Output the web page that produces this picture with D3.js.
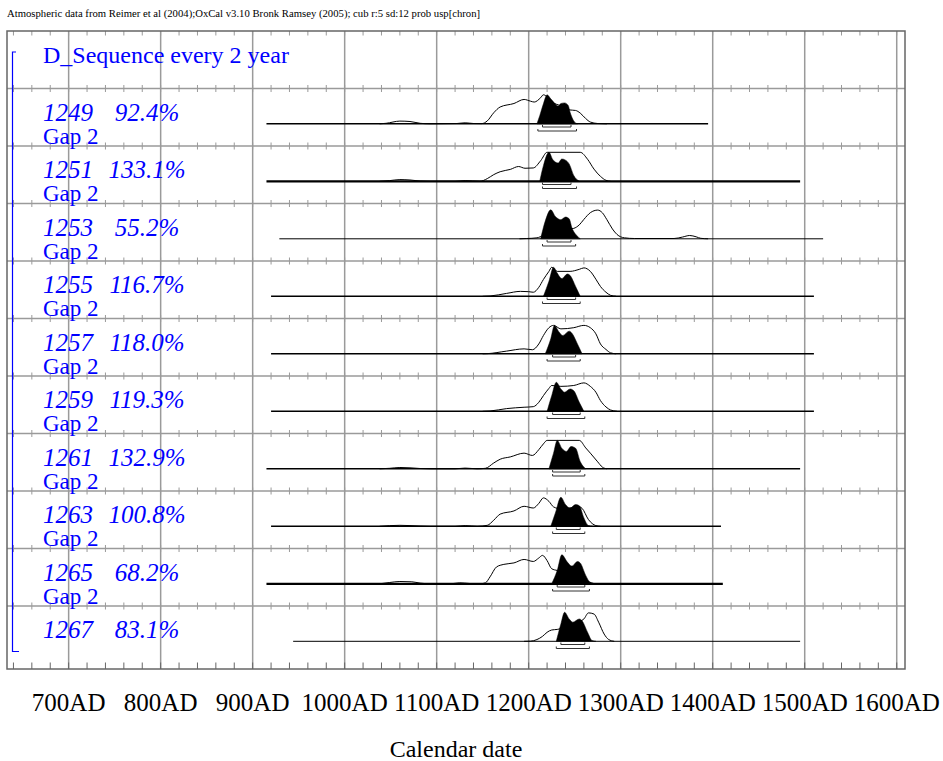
<!DOCTYPE html>
<html>
<head>
<meta charset="UTF-8">
<title>D_Sequence every 2 year</title>
<script src="https://cdnjs.cloudflare.com/ajax/libs/d3/7.8.5/d3.min.js"></script>
<style>
  body { margin: 0; padding: 0; background: #fff; }
  svg { display: block; font-family: "Liberation Serif", "Times New Roman", serif; }
</style>
</head>
<body>
<div id="chart"></div>
<script>
// --- data ---
const headerText = "Atmospheric data from Reimer et al (2004);OxCal v3.10 Bronk Ramsey (2005); cub r:5 sd:12 prob usp[chron]";
const sequenceName = "D_Sequence every 2 year";
const gapText = "Gap 2";
const axisTitle = "Calendar date";
const tickYears = [700, 800, 900, 1000, 1100, 1200, 1300, 1400, 1500, 1600];

const labels = ["1249", "1251", "1253", "1255", "1257", "1259", "1261", "1263", "1265", "1267"];
const agreements = ["92.4%", "133.1%", "55.2%", "116.7%", "118.0%", "119.3%", "132.9%", "100.8%", "68.2%", "83.1%"];

// extent of the calculated range (years AD)
const rangeStart = [915, 915, 929, 920, 920, 920, 915, 920, 915, 944];
const rangeEnd   = [1395, 1495, 1520, 1510, 1510, 1510, 1495, 1409, 1411, 1495];

// 68.2% and 95.4% ranges
const range68 = [[1215,1246],[1215,1246],[1220,1246],[1220,1251],[1226,1251],[1226,1256],[1226,1256],[1230,1256],[1231,1261],[1235,1261]];
const range95 = [[1210,1252],[1215,1252],[1215,1251],[1215,1256],[1220,1256],[1220,1261],[1226,1261],[1226,1261],[1226,1266],[1230,1266]];

// prior (outline) distributions: [year, relative probability %]
const priors = [
  [[1038,0],[1045,1.7],[1060,9.3],[1071,7.9],[1082,1.7],[1093,0],[1122,1],[1131,3.4],[1140,1],[1149,0.7],[1155,10],[1162,38],[1169,58],[1184,70],[1195,84],[1202,78],[1206,75],[1213,90],[1216,100],[1220,93],[1225,76],[1235,62],[1244,48],[1251,46],[1256,37],[1262,18],[1267,6],[1275,1],[1285,0]],
  [[1038,0],[1049,2.4],[1060,5.9],[1071,4.5],[1082,1],[1093,0],[1120,0],[1131,2.4],[1147,0],[1155,9.3],[1162,23],[1169,33],[1180,41],[1189,51],[1196,45],[1205,46],[1213,71],[1220,100],[1256,100],[1264,76],[1271,42],[1278,17],[1284,3.4],[1289,0]],
  [[1190,0],[1198,1],[1209,3.4],[1216,12],[1224,22],[1235,30],[1245,34],[1249,36],[1255,48],[1260,67],[1267,90],[1275,99],[1280,90],[1285,66],[1291,34],[1296,15],[1304,3.4],[1315,1],[1358,1],[1367,5.9],[1375,11.4],[1382,6.9],[1387,1.7],[1395,0]],
  [[1150,0],[1158,1],[1176,10],[1191,17],[1200,16],[1205,14],[1211,31],[1216,58],[1222,86],[1225,100],[1231,86],[1245,86],[1255,93],[1260,98],[1267,86],[1273,59],[1278,34],[1284,14],[1289,3.4],[1295,0]],
  [[1150,0],[1155,0.5],[1176,9.3],[1195,17],[1204,14],[1211,34],[1216,63],[1222,90],[1227,98],[1235,86],[1249,90],[1260,98],[1267,90],[1273,69],[1278,34],[1284,15],[1289,3.4],[1295,0]],
  [[1150,0],[1158,1],[1176,9.3],[1195,14],[1205,16],[1211,31],[1216,54],[1222,79],[1225,89],[1235,86],[1249,89],[1260,98],[1267,86],[1273,66],[1278,37],[1284,15],[1289,4.5],[1296,0]],
  [[1038,0],[1049,1.7],[1060,4.5],[1071,3.4],[1082,1],[1093,0],[1120,0],[1131,2.4],[1144,0],[1153,1.7],[1162,20],[1169,33],[1180,41],[1195,54],[1204,46],[1211,66],[1216,86],[1220,98],[1255,98],[1262,72],[1267,54],[1275,24],[1280,6],[1285,0]],
  [[1038,0],[1060,3.4],[1082,1],[1093,0],[1120,0],[1131,2.4],[1144,0],[1155,3.4],[1162,21],[1169,42],[1184,53],[1195,69],[1205,63],[1211,79],[1216,98],[1222,86],[1227,67],[1235,60],[1245,63],[1253,69],[1258,62],[1265,23],[1273,2.4],[1278,0]],
  [[1038,0],[1049,4.5],[1060,7.9],[1073,6.9],[1082,2.4],[1093,0],[1115,0],[1125,3.4],[1136,1],[1147,0],[1153,3.4],[1158,24],[1165,58],[1173,67],[1184,72],[1195,84],[1205,77],[1211,89],[1215,98],[1220,80],[1225,52],[1231,46],[1242,41],[1256,34],[1264,10],[1272,0]],
  [[1195,0],[1202,0.5],[1209,6],[1215,17],[1220,31],[1225,39],[1231,41],[1240,48],[1250,60],[1256,69],[1260,77],[1265,98],[1271,94],[1276,66],[1282,25],[1287,6],[1293,0]]
];

// posterior (filled) distributions
const posteriors = [
  [[1209,0],[1212,28],[1216,69],[1220,100],[1224,86],[1228,72],[1232,61],[1235,70],[1239,72],[1243,63],[1245,40],[1249,10],[1253,0]],
  [[1212,0],[1216,54],[1222,100],[1226,76],[1232,63],[1236,77],[1240,73],[1244,60],[1249,20],[1255,0]],
  [[1213,0],[1218,61],[1224,100],[1229,77],[1235,66],[1240,75],[1244,69],[1247,38],[1253,9],[1256,0]],
  [[1216,0],[1222,52],[1227,100],[1231,80],[1236,61],[1242,77],[1245,72],[1251,34],[1256,0]],
  [[1218,0],[1224,52],[1228,98],[1233,75],[1237,63],[1244,78],[1247,71],[1253,34],[1258,0]],
  [[1220,0],[1225,54],[1230,100],[1235,77],[1239,66],[1245,77],[1249,71],[1255,31],[1260,0]],
  [[1222,0],[1227,54],[1231,98],[1236,71],[1241,60],[1246,77],[1251,71],[1256,25],[1262,0]],
  [[1224,0],[1229,46],[1235,100],[1240,75],[1245,63],[1251,75],[1255,71],[1260,29],[1265,2.4],[1269,0]],
  [[1225,0],[1231,46],[1236,100],[1242,75],[1247,61],[1253,77],[1256,72],[1262,29],[1267,3.4],[1271,0]],
  [[1230,0],[1235,60],[1239,100],[1244,77],[1248,66],[1255,77],[1258,71],[1264,31],[1269,2.4],[1273,0]]
];

// --- layout ---
const width = 943, height = 761;
const frame = { left: 7, right: 905, top: 31, bottom: 669 };
const rowH = 57.5;
const baseOff = 35.3, peakH = 29;
const blue = "#0000ff";
const gridColor = "#9a9a9a";
const lineWidths = { "1251": 2.2, "1265": 2.2, "1253": 1, "1267": 1 };

const x = d3.scaleLinear().domain([633, 1609]).range([frame.left, frame.right]);
const rows = d3.scaleBand()
  .domain(["title"].concat(labels))
  .range([frame.top, frame.top + rowH * (labels.length + 1)]);
const h = d3.scaleLinear().domain([0, 100]).range([0, peakH]);

const svg = d3.select("#chart").append("svg")
  .attr("width", width)
  .attr("height", height);

svg.append("text")
  .attr("x", 7).attr("y", 17)
  .attr("font-size", 10.7)
  .text(headerText);

// vertical grid lines (every 100 years)
svg.selectAll(".vgrid").data(tickYears).enter().append("line")
  .attr("class", "vgrid")
  .attr("x1", d => x(d)).attr("x2", d => x(d))
  .attr("y1", frame.top).attr("y2", frame.bottom)
  .attr("stroke", gridColor).attr("stroke-width", 1.5);

// horizontal row separators
const seps = labels.map(l => rows(l));
svg.selectAll(".hgrid").data(seps).enter().append("line")
  .attr("class", "hgrid")
  .attr("x1", frame.left).attr("x2", frame.right)
  .attr("y1", d => d).attr("y2", d => d)
  .attr("stroke", gridColor).attr("stroke-width", 1.5);

// minor ticks every 20 years
const minor = d3.range(640, 1601, 20);
seps.forEach(y0 => {
  svg.append("g").selectAll("line").data(minor).enter().append("line")
    .attr("x1", d => x(d)).attr("x2", d => x(d))
    .attr("y1", y0 - 3.5).attr("y2", y0 + 3.5)
    .attr("stroke", gridColor).attr("stroke-width", 1);
});
svg.append("g").selectAll("line").data(minor).enter().append("line")
  .attr("x1", d => x(d)).attr("x2", d => x(d))
  .attr("y1", frame.top).attr("y2", frame.top + 4.5)
  .attr("stroke", gridColor).attr("stroke-width", 1);
svg.append("g").selectAll("line").data(minor).enter().append("line")
  .attr("x1", d => x(d)).attr("x2", d => x(d))
  .attr("y1", frame.bottom - 6.5).attr("y2", frame.bottom)
  .attr("stroke", "#666").attr("stroke-width", 1);

// frame
svg.append("rect")
  .attr("x", frame.left).attr("y", frame.top)
  .attr("width", frame.right - frame.left).attr("height", frame.bottom - frame.top)
  .attr("fill", "none").attr("stroke", "#666").attr("stroke-width", 1.5);

// sequence bracket
const bTop = 52, bBot = 651.5, bx = 12.5;
svg.append("path")
  .attr("d", `M${bx + 3.5},${bTop}H${bx}V${bBot}H${bx + 6.5}`)
  .attr("fill", "none").attr("stroke", blue).attr("stroke-width", 1.2);

svg.append("text")
  .attr("x", 43).attr("y", rows("title") + 32.3)
  .attr("font-size", 24).attr("fill", blue)
  .text(sequenceName);

const line = d3.line().x(d => x(d[0])).curve(d3.curveMonotoneX);
const area = d3.area().x(d => x(d[0])).curve(d3.curveMonotoneX);

labels.forEach((lab, i) => {
  const top = rows(lab);
  const base = top + baseOff;
  const g = svg.append("g");

  g.append("text")
    .attr("x", 43).attr("y", top + 32)
    .attr("font-size", 25).attr("font-style", "italic").attr("fill", blue)
    .text(lab);
  g.append("text")
    .attr("x", 147).attr("y", top + 32)
    .attr("text-anchor", "middle")
    .attr("font-size", 25).attr("font-style", "italic").attr("fill", blue)
    .text(agreements[i]);
  if (i < labels.length - 1) {
    g.append("text")
      .attr("x", 43).attr("y", top + 55)
      .attr("font-size", 23).attr("fill", blue)
      .text(gapText);
  }

  g.append("line")
    .attr("x1", x(rangeStart[i])).attr("x2", x(rangeEnd[i]))
    .attr("y1", base).attr("y2", base)
    .attr("stroke", "#000").attr("stroke-width", lineWidths[lab] || 1.6);

  g.append("path")
    .datum(priors[i])
    .attr("d", line.y(d => base - h(d[1])))
    .attr("fill", "none").attr("stroke", "#000").attr("stroke-width", 1);

  g.append("path")
    .datum(posteriors[i])
    .attr("d", area.y0(base).y1(d => base - h(d[1])))
    .attr("fill", "#000").attr("stroke", "#000").attr("stroke-width", 0.5);

  [[range68[i], 3.2], [range95[i], 7.2]].forEach(([r, off]) => {
    const yy = base + off;
    g.append("path")
      .attr("d", `M${x(r[0])},${yy - 2}V${yy}H${x(r[1])}V${yy - 2}`)
      .attr("fill", "none").attr("stroke", "#333").attr("stroke-width", 1);
  });
});

// axis labels
svg.selectAll(".tlab").data(tickYears).enter().append("text")
  .attr("class", "tlab")
  .attr("x", d => x(d)).attr("y", 711)
  .attr("text-anchor", "middle")
  .attr("font-size", 25)
  .text(d => d + "AD");

svg.append("text")
  .attr("x", (frame.left + frame.right) / 2).attr("y", 757)
  .attr("text-anchor", "middle")
  .attr("font-size", 24)
  .text(axisTitle);
</script>
</body>
</html>
